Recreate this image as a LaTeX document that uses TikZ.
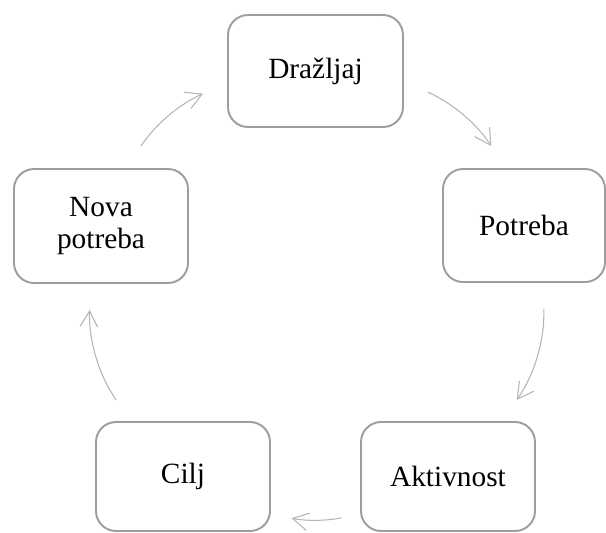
\documentclass[tikz,border=0pt]{standalone}
\usepackage{fontspec}
\setmainfont{Liberation Serif}
\usetikzlibrary{arrows.meta}
\definecolor{boxgray}{RGB}{158,158,158}
\definecolor{arrowgray}{RGB}{180,180,180}

\begin{document}
\begin{tikzpicture}[
	box/.style={draw=boxgray, line width=1.1pt, rounded corners=0.4cm, fill=white,
		align=center, inner sep=0pt, font=\fontsize{16.7}{18.7}\selectfont},
	arr/.style={draw=arrowgray, line width=0.6pt, -{Straight Barb[length=9pt,width=10pt]},
		shorten <=0.52cm, shorten >=0.52cm}]
			\useasboundingbox (0,0) rectangle (12.12,-10.64);
			\node[box, minimum width=3.5cm, minimum height=2.24cm] (drazljaj) at (6.31,-1.42) {Dražljaj};
			\node[box, minimum width=3.24cm, minimum height=2.26cm] (potreba) at (10.48,-4.51) {Potreba};
			\node[box, minimum width=3.48cm, minimum height=2.18cm] (aktivnost) at (8.96,-9.53) {Aktivnost};
			\node[box, minimum width=3.48cm, minimum height=2.18cm] (cilj) at (3.66,-9.53) {Cilj};
			\node[box, minimum width=3.48cm, minimum height=2.28cm] (nova) at (2.02,-4.52) {Nova\\potreba};
			% ciklus
			\draw[arr] (drazljaj.-7.8) to[bend left=17] (potreba.108);
			\draw[arr] (potreba.-72.5) to[bend left=19] (aktivnost.46);
			\draw[arr, shorten <=0.38cm, shorten >=0.42cm] (aktivnost.203) to[bend left=12] (cilj.-23);
			\draw[arr] (cilj.133.5) to[bend left=19] (nova.-100.7);
			\draw[arr] (nova.66) to[bend left=17] (drazljaj.188.3);
		\end{tikzpicture}
\end{document}
